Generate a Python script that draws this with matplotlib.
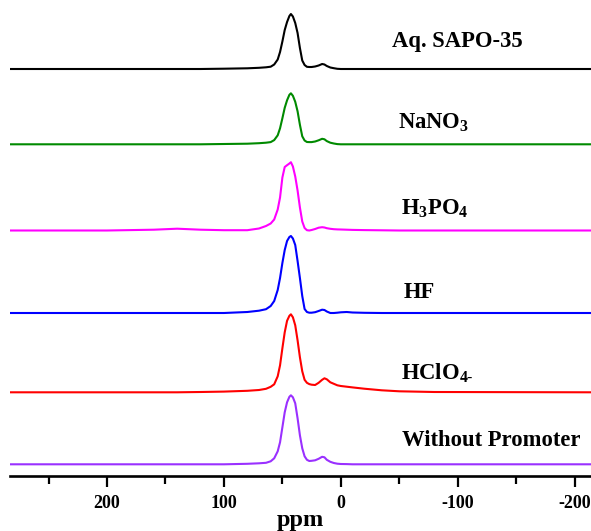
import numpy as np
import matplotlib
matplotlib.use('Agg')
from matplotlib import pyplot as plt
from matplotlib.ticker import MultipleLocator

plt.rcParams['font.family'] = 'Liberation Serif'
plt.rcParams['font.weight'] = 'bold'
plt.rcParams['mathtext.fontset'] = 'custom'
plt.rcParams['mathtext.rm'] = 'Liberation Serif:bold'
plt.rcParams['mathtext.it'] = 'Liberation Serif:bold'
plt.rcParams['mathtext.bf'] = 'Liberation Serif:bold'
plt.rcParams['axes.unicode_minus'] = False

# chemical shift points (ppm)
ppm = [283, 200, 160, 140, 120, 100, 80, 70, 64, 60, 57, 54, 52, 50, 48, 46, 44, 42.7, 41, 39,
       37, 35, 33, 31, 29, 27, 25, 22, 19, 16, 14, 12, 9, 6, 3, 0, -5, -10, -20, -35, -50, -80, -214]

# intensities (arbitrary units) for each sample
aq_sapo = [0, 0, 0, 0, 0, 0.3, 0.7, 1.2, 1.7, 2.3, 4.5, 9.5, 17, 27.5, 39, 47, 53, 55, 52.5, 46,
           36, 21, 8.5, 4, 2.2, 2, 2, 2.5, 3.5, 5, 4.5, 3, 1.5, 0.8, 0.2, 0, 0, 0, 0, 0, 0, 0, 0]
nano3 = [0, 0, 0, 0, 0, 0.3, 0.6, 1.1, 1.6, 2.2, 4.2, 9, 16, 26, 36.5, 44, 49.5, 51, 48.5, 42.5,
         33, 19.5, 8, 3.8, 2.3, 2.2, 2.2, 2.8, 4, 5.5, 5, 3.2, 1.6, 0.8, 0.2, 0, 0, 0, 0, 0, 0, 0, 0]
h3po4 = [0, 0, 0.8, 1.8, 0.8, 0.3, 0.3, 2, 4.5, 7, 11, 21, 33, 53, 63.5, 65.3, 67, 68.3, 64, 54,
         40, 23, 9, 2.5, 0.3, 0, 0.5, 1.5, 2.8, 3.3, 3, 2.3, 1.7, 1.3, 1.1, 1, 0.8, 0.6, 0.4, 0.2, 0, 0, 0]
hf = [0, 0, 0, 0, 0, 0, 1, 2.3, 3.8, 7, 12, 23, 35, 50, 63, 72, 76, 77, 74.5, 68,
      52, 35, 17, 4, 1, 0.3, 0.3, 0.8, 2, 3.3, 3, 1.5, 0, 0, 0.3, 0.7, 1, 0.5, 0.2, 0, 0, 0, 0]
hclo4 = [0, 0, 0, 0, 0.3, 0.7, 1.5, 2.3, 3.5, 5.5, 8, 16, 27, 44, 60, 71.5, 76.5, 78, 75, 67,
         52, 35, 21, 12.5, 9.5, 8.2, 7.6, 7.3, 9.5, 12.5, 14, 13, 10, 8.5, 7, 6.3, 5.6, 4.9, 3.6, 2, 1, 0.3, 0]
no_promoter = [0, 0, 0, 0, 0, 0, 0.5, 1, 1.5, 3, 6, 13, 22, 37, 52, 62, 67.5, 69, 67, 61,
               46, 29, 16, 8, 4.5, 3.3, 3.5, 4, 5.5, 7.5, 7, 4.5, 2.5, 1.3, 0.6, 0.3, 0.2, 0, 0, 0, 0, 0, 0]

series = [aq_sapo, nano3, h3po4, hf, hclo4, no_promoter]
labels = ['Aq. SAPO-35', 'NaNO$_3$', 'H$_3$PO$_4$', 'HF', 'HClO$_{4\u2010}$', 'Without Promoter']
colors = ['black', '#008a00', '#ff00ff', '#0000ff', '#ff0000', '#9a30ff']
offsets = [407, 331.7, 245.5, 163, 83.7, 11.7]
label_x = [-44, -49, -51.5, -54, -51.5, -52]
label_y = [434, 353, 267, 184, 103, 36]

fig = plt.figure(figsize=(5.91, 5.31), dpi=100)
ax = fig.add_axes([10 / 591, 55 / 531, 581 / 591, 476 / 531])

for y, lab, c, off, lx, ly in zip(series, labels, colors, offsets, label_x, label_y):
    ax.plot(ppm, np.array(y) + off, color=c, lw=1.5)
    ax.text(lx, ly, lab, fontsize=16.3, fontweight='bold', ha='left', va='center')

ax.set_xlim(283, -214)
ax.set_ylim(0, 476)
ax.xaxis.set_major_locator(MultipleLocator(100))
ax.xaxis.set_minor_locator(MultipleLocator(50))
ax.set_yticks([])
for s in ['left', 'right', 'top']:
    ax.spines[s].set_visible(False)
ax.spines['bottom'].set_linewidth(1.9)
ax.tick_params(axis='x', which='major', direction='out', length=8, width=1.6, pad=6,
               labelsize=13)
ax.tick_params(axis='x', which='minor', direction='out', length=5.5, width=1.6)
for t in ax.get_xticklabels():
    t.set_fontweight('bold')
ax.set_xlabel('ppm', fontsize=17.5, fontweight='bold', labelpad=-2)

plt.savefig('out.png', dpi=100)
